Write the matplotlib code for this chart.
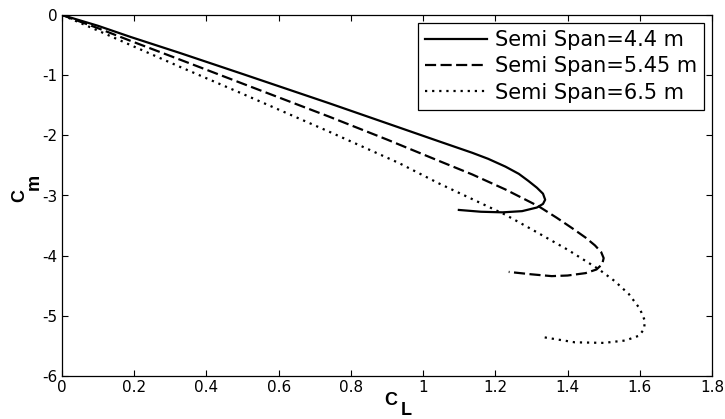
import matplotlib
matplotlib.use("Agg")
import matplotlib.pyplot as plt

plt.rcParams["font.family"] = ["DejaVu Sans"]

# Cm vs CL for three semi-span values
cl_44 = [0, 0.10, 0.19, 0.326, 0.50, 0.74, 0.90, 1.044, 1.136, 1.18, 1.228, 1.265,
         1.292, 1.315, 1.332, 1.338, 1.332, 1.315, 1.274, 1.22, 1.16, 1.099]
cm_44 = [0, -0.18, -0.365, -0.63, -0.98, -1.467, -1.80, -2.10, -2.29, -2.39, -2.52, -2.64,
         -2.76, -2.87, -2.97, -3.07, -3.14, -3.20, -3.26, -3.28, -3.27, -3.24]

cl_545 = [0, 0.10, 0.19, 0.326, 0.50, 0.74, 0.90, 1.05, 1.136, 1.228, 1.32, 1.37,
          1.412, 1.45, 1.476, 1.493, 1.50, 1.496, 1.48, 1.45, 1.40, 1.356, 1.30, 1.237]
cm_545 = [0, -0.22, -0.43, -0.74, -1.14, -1.69, -2.07, -2.44, -2.65, -2.90, -3.18, -3.37,
          -3.54, -3.70, -3.83, -3.94, -4.04, -4.14, -4.23, -4.29, -4.33, -4.34, -4.31, -4.27]

cl_65 = [0, 0.10, 0.19, 0.326, 0.50, 0.74, 0.933, 1.044, 1.136, 1.228, 1.30, 1.40,
         1.485, 1.53, 1.57, 1.60, 1.614, 1.612, 1.598, 1.56, 1.50, 1.42, 1.328]
cm_65 = [0, -0.26, -0.50, -0.86, -1.31, -1.94, -2.46, -2.80, -3.06, -3.32, -3.56, -3.90,
         -4.22, -4.42, -4.64, -4.88, -5.08, -5.22, -5.33, -5.41, -5.45, -5.44, -5.35]

labels = ["Semi Span=4.4 m", "Semi Span=5.45 m", "Semi Span=6.5 m"]
xticks = [0, 0.2, 0.4, 0.6, 0.8, 1, 1.2, 1.4, 1.6, 1.8]
xtick_labels = ["0", "0.2", "0.4", "0.6", "0.8", "1", "1.2", "1.4", "1.6", "1.8"]
yticks = [0, -1, -2, -3, -4, -5, -6]
ytick_labels = ["0", "-1", "-2", "-3", "-4", "-5", "-6"]

W, H = 725, 419
fig = plt.figure(figsize=(W / 100, H / 100), dpi=100)
ax = fig.add_axes([62 / W, 1 - 376 / H, 650 / W, 361 / H])

ax.plot(cl_44, cm_44, color="k", lw=1.6, ls="-", label=labels[0])
ax.plot(cl_545, cm_545, color="k", lw=1.6, ls=(0, (5, 2)), label=labels[1])
ax.plot(cl_65, cm_65, color="k", lw=1.6, ls=(0, (1, 2.2)), label=labels[2])

ax.set_xlim(0, 1.8)
ax.set_ylim(-6, 0)
ax.set_xticks(xticks)
ax.set_xticklabels(xtick_labels)
ax.set_yticks(yticks)
ax.set_yticklabels(ytick_labels)
ax.tick_params(direction="in", length=4.5, width=0.8, top=True, right=True,
               labelsize=11, pad=3)
for s in ax.spines.values():
    s.set_linewidth(0.9)

# axis labels with the subscript set fully below the letter
lab = dict(fontsize=13, fontweight="bold", family="Liberation Sans")
fig.text(391 / W, 1 - 405 / H, "C", ha="center", va="baseline", **lab)
fig.text(406 / W, 1 - 415 / H, "L", ha="center", va="baseline", **lab)
fig.text(24 / W, 1 - 195 / H, "C", rotation=90, rotation_mode="anchor",
         ha="center", va="baseline", **lab)
fig.text(39 / W, 1 - 182 / H, "m", rotation=90, rotation_mode="anchor",
         ha="center", va="baseline", **lab)

leg = ax.legend(loc="upper right", fontsize=15, handlelength=3.0,
                handletextpad=0.35, labelspacing=0.3, borderpad=0.33,
                borderaxespad=0.4, fancybox=False, framealpha=1,
                edgecolor="k")
leg.get_frame().set_linewidth(0.9)

fig.savefig("out.png", dpi=100)
